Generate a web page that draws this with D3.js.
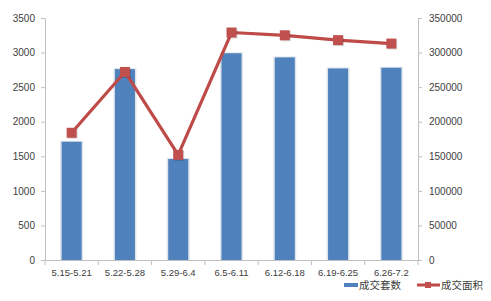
<!DOCTYPE html>
<html>
<head>
<meta charset="utf-8">
<script src="https://cdn.jsdelivr.net/npm/d3@7"></script>
<style>
  body { margin: 0; background: #fff; }
  svg { display: block; }
</style>
</head>
<body>
<div id="chart"></div>
<script>
var weeks = ['5.15-5.21', '5.22-5.28', '5.29-6.4', '6.5-6.11', '6.12-6.18', '6.19-6.25', '6.26-7.2'];
var units = [1710, 2760, 1460, 2990, 2930, 2770, 2780];      // 成交套数
var area = [184000, 272000, 152000, 329000, 325000, 318000, 313000]; // 成交面积
var leftTicks = [0, 500, 1000, 1500, 2000, 2500, 3000, 3500];
var rightTicks = [0, 50000, 100000, 150000, 200000, 250000, 300000, 350000];
var legendNames = ['成交套数', '成交面积'];

var dim = { width: 491, height: 301, left: 45, right: 418, top: 18, bottom: 260 };
var colors = { bar: '#4f81bd', barEdge: '#dde3ea', line: '#be4b48', marker: '#c0504d', axis: '#bfbfbf', text: '#404040' };
var numFont = '"Liberation Sans", Arial, sans-serif';
var cjkFont = '"Noto Sans CJK SC", sans-serif';

var svg = d3.select('#chart').append('svg').attr('width', dim.width).attr('height', dim.height);

var x = d3.scaleBand().domain(weeks).range([dim.left, dim.right]);
var yL = d3.scaleLinear().domain([0, 3500]).range([dim.bottom, dim.top]);
var yR = d3.scaleLinear().domain([0, 350000]).range([dim.bottom, dim.top]);

var styleAxis = function(g) {
  g.select('.domain').attr('stroke', colors.axis);
  g.selectAll('.tick line').attr('stroke', colors.axis);
  g.selectAll('.tick text').attr('fill', colors.text).attr('font-family', numFont).attr('font-size', 10);
};

// left axis
svg.append('g').attr('transform', 'translate(' + dim.left + ',0)')
  .call(d3.axisLeft(yL).tickValues(leftTicks).tickFormat(d3.format('d')).tickSize(4).tickSizeOuter(0).tickPadding(6))
  .call(styleAxis);

// right axis
svg.append('g').attr('transform', 'translate(' + dim.right + ',0)')
  .call(d3.axisRight(yR).tickValues(rightTicks).tickFormat(d3.format('d')).tickSize(4).tickSizeOuter(0).tickPadding(7))
  .call(styleAxis);

// bottom axis, ticks between categories
var xg = svg.append('g').attr('transform', 'translate(0,' + dim.bottom + ')')
  .call(d3.axisBottom(x).tickSize(0).tickPadding(9))
  .call(styleAxis);
xg.selectAll('.tick text').attr('font-size', 9.5);
var bounds = d3.range(weeks.length + 1).map(function(i) { return dim.left + x.step() * i; });
xg.selectAll('line.sep').data(bounds).enter().append('line').attr('class', 'sep')
  .attr('x1', function(d) { return d; }).attr('x2', function(d) { return d; })
  .attr('y1', 0).attr('y2', 5).attr('stroke', colors.axis);

// bars
var barW = 20;
var bars = svg.append('g');
bars.selectAll('rect.edge').data(units).enter().append('rect').attr('class', 'edge')
  .attr('x', function(d, i) { return x(weeks[i]) + x.bandwidth() / 2 - barW / 2 - 1.5; })
  .attr('y', function(d) { return yL(d) - 1; })
  .attr('width', barW + 3)
  .attr('height', function(d) { return dim.bottom - yL(d) + 1; })
  .attr('fill', colors.barEdge);
bars.selectAll('rect.bar').data(units).enter().append('rect').attr('class', 'bar')
  .attr('x', function(d, i) { return x(weeks[i]) + x.bandwidth() / 2 - barW / 2; })
  .attr('y', function(d) { return yL(d); })
  .attr('width', barW)
  .attr('height', function(d) { return dim.bottom - yL(d); })
  .attr('fill', colors.bar);

// line
var cx = function(d, i) { return x(weeks[i]) + x.bandwidth() / 2; };
var line = d3.line().x(cx).y(function(d) { return yR(d); });
svg.append('path').datum(area)
  .attr('d', line).attr('fill', 'none')
  .attr('stroke', colors.line).attr('stroke-width', 3.2).attr('stroke-linejoin', 'round');

var mk = 10;
svg.selectAll('rect.shadow').data(area).enter().append('rect').attr('class', 'shadow')
  .attr('x', function(d, i) { return cx(d, i) - mk / 2 + 1; })
  .attr('y', function(d) { return yR(d) - mk / 2 + 1; })
  .attr('width', mk).attr('height', mk)
  .attr('fill', 'rgba(0,0,0,0.15)');
svg.selectAll('rect.marker').data(area).enter().append('rect').attr('class', 'marker')
  .attr('x', function(d, i) { return cx(d, i) - mk / 2; })
  .attr('y', function(d) { return yR(d) - mk / 2; })
  .attr('width', mk).attr('height', mk)
  .attr('fill', colors.marker);

// legend
var lg = svg.append('g').attr('transform', 'translate(0,285)');
lg.append('rect').attr('x', 344).attr('y', -2).attr('width', 14).attr('height', 4).attr('fill', colors.bar);
lg.append('text').attr('x', 359).attr('y', 4).attr('fill', colors.text)
  .attr('font-family', cjkFont).attr('font-size', 10.5).text(legendNames[0]);
lg.append('line').attr('x1', 417).attr('x2', 440).attr('y1', 0).attr('y2', 0)
  .attr('stroke', colors.line).attr('stroke-width', 3);
lg.append('rect').attr('x', 425).attr('y', -3).attr('width', 6).attr('height', 6).attr('fill', colors.marker);
lg.append('text').attr('x', 441).attr('y', 4).attr('fill', colors.text)
  .attr('font-family', cjkFont).attr('font-size', 10.5).text(legendNames[1]);
</script>
</body>
</html>
